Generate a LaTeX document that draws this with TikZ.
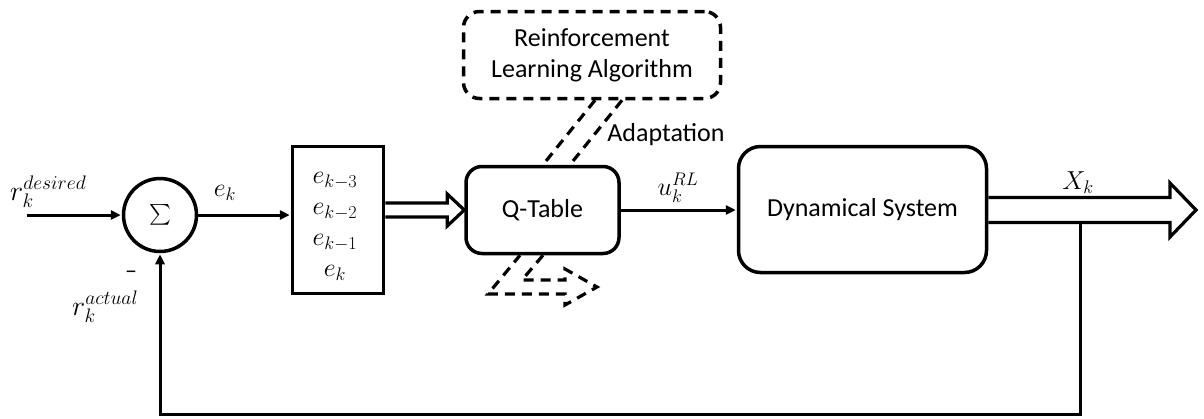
\RequirePackage{fix-cm}
\documentclass[tikz,border=0pt]{standalone}
\usepackage{exscale}
\usepackage{fontspec}
\setmainfont{Carlito}
\usetikzlibrary{calc,arrows.meta}

\begin{document}
\begin{tikzpicture}[x=1pt,y=-1pt,
  every node/.style={font=\fontsize{26}{31}\selectfont},
  blk/.style={draw, line width=3.5pt, inner sep=0pt, align=center},
  rbox/.style={blk, rounded corners=16pt},
  arr/.style={line width=3pt, -{Triangle[length=10pt,width=9pt]}, shorten >=1pt},
  hollow/.style={line width=3.2pt, line join=miter},
  dsh/.style={dash pattern=on 10pt off 7pt},
  lbl/.style={inner sep=0pt},
  rlbl/.style={inner sep=0pt, font=\fontsize{28}{31}\selectfont}]

\useasboundingbox (0,0) rectangle (1204,418);

% blocks
\node[blk, circle, minimum size=73pt] (sum) at (160,215)
  {\fontsize{21}{21}\selectfont$\sum$};
\node[blk, minimum width=91pt, minimum height=147pt] (buf) at (338,220) {};
\node[lbl, align=center] (buftxt) at (335,226)
  {$e_{k-3}$\\$e_{k-2}$\\$e_{k-1}$\\$e_k$};
\node[rbox, minimum width=153pt, minimum height=87pt] (qt) at (542.5,210) {Q-Table};
\node[rbox, rounded corners=22pt, minimum width=248pt, minimum height=126pt]
  (ds) at (862.5,209.5) {Dynamical System};
\node[rbox, dsh, minimum width=257pt, minimum height=87pt] (rl) at (592,55)
  {Reinforcement\\Learning Algorithm};

% labels
\node[rlbl, anchor=base west] (rdes) at (10,200) {$r_k^{desired}$};
\node[lbl] (ek) at (225,193) {$e_k$};
\node[lbl, font=\fontsize{24}{24}\selectfont] (minus) at (131,275) {–};
\node[rlbl, anchor=base west] (ract) at (72,315) {$r_k^{actual}$};
\node[lbl] (ulbl) at (678,188) {$u_k^{RL}$};
\node[lbl] (xlbl) at (1078,183) {$X_k$};
\node[lbl] (adapt) at (666,135) {Adaptation};

% signal connectors
\coordinate (rin) at (27,215);
\draw[arr] (rin) -- (sum.west);
\draw[arr] (sum.east) -- (sum.east -| buf.west);
\draw[arr] (qt.east) -- (qt.east -| ds.west);

% wide arrow from the error buffer into the Q-table
\draw[hollow] let \p1=(buf.east), \p2=(qt.west) in
  (\x1,\y2+7pt) -- (\x2-17pt,\y2+7pt) -- (\x2-17pt,\y2+16pt) -- (\p2)
  -- (\x2-17pt,\y2-16pt) -- (\x2-17pt,\y2-7pt) -- (\x1,\y2-7pt);

% wide output arrow
\coordinate (xout) at (1196,210);
\draw[hollow] let \p1=(ds.east), \p2=(xout) in
  (\x1,\y2+12.5pt) -- (\x2-26pt,\y2+12.5pt) -- (\x2-26pt,\y2+27pt) -- (\p2)
  -- (\x2-26pt,\y2-27pt) -- (\x2-26pt,\y2-12.5pt) -- (\x1,\y2-12.5pt);

% feedback path
\coordinate (fbtop) at (1080,222.5);
\coordinate (fbcorner) at (1080,414);
\draw[arr] (fbtop) -- (fbcorner) -| (sum.south);

% adaptation link from the learning algorithm
\draw[hollow, dsh] ($(rl.south)+(3,0)$) -- ($(qt.north)+(0.5,0)$);
\draw[hollow, dsh] ($(rl.south)+(30,0)$) -- ($(qt.north)+(27.5,0)$);

% dashed adjustment arrow below the Q-table
\coordinate (adtip) at (597,287);
\draw[hollow, dsh] ($(qt.south)+(0.5,0)$) -- (522,280) -- (565,280) -- (565,269)
  -- (adtip) -- (565,305) -- (565,294) -- (488,294) -- ($(qt.south)+(-22.5,0)$);

\end{tikzpicture}
\end{document}
